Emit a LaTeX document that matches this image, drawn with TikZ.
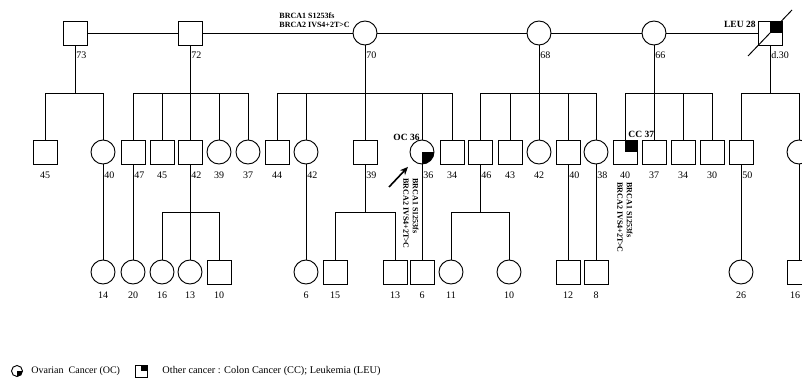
\documentclass[tikz,border=0pt]{standalone}
\usepackage{fontspec}
\setmainfont{Liberation Serif}
\usetikzlibrary{positioning,arrows.meta}

\begin{document}
\begin{tikzpicture}[x=1pt,y=-1pt,>={Stealth[length=8pt,width=7pt]},line width=0.95pt,
  male/.style={draw,minimum size=24pt,inner sep=0pt},
  female/.style={draw,circle,minimum size=24pt,inner sep=0pt},
  age/.style={font=\fontsize{10}{12}\selectfont,inner sep=1pt},
  cancer/.style={font=\fontsize{9.5}{11}\selectfont\bfseries,inner sep=1pt},
  gene/.style={font=\fontsize{8}{9.5}\selectfont\bfseries,align=left,inner sep=0pt}]
\useasboundingbox (0,0) rectangle (802,383);
\coordinate (s1) at (0,93);
\coordinate (s2) at (0,212);

% generation I
\node[male] (g73) at (75,33) {};
\node[male] (g72) at (190,33) {};
\node[female] (g70) at (365,33) {};
\node[female] (g68) at (539,33) {};
\node[female] (g66) at (654,33) {};
\node[male] (g28) at (770,33) {};
\draw (g73) -- (g72) -- (g70) -- (g68) -- (g66) -- (g28);
\fill (g28.center) rectangle (g28.north east);
\draw ([shift={(-22,23)}]g28.center) -- ([shift={(22,-23)}]g28.center);
\node[age,below right=4.5pt and 0pt of g73.south] (t73) {73};
\node[age,below right=4.5pt and 0pt of g72.south] (t72) {72};
\node[age,below right=4.5pt and 0pt of g70.south] (t70) {70};
\node[age,below right=4.5pt and 0pt of g68.south] (t68) {68};
\node[age,below right=4.5pt and 0pt of g66.south] (t66) {66};
\node[age,below right=4.5pt and 0pt of g28.south] (t28) {d.30};
\node[cancer,anchor=east] (leu) at (757,24) {LEU 28};
\node[gene,anchor=north west] (n70) at (279,12) {BRCA1 S1253fs\\BRCA2 IVS4+2T>C};

% generation II
\node[male] (a45) at (45,152) {};
\node[female] (a40) at (103,152) {};
\node[male] (a47) at (133,152) {};
\node[male] (a45b) at (162,152) {};
\node[male] (a42) at (190,152) {};
\node[female] (a39) at (219,152) {};
\node[female] (a37) at (248,152) {};
\node[male] (b44) at (277,152) {};
\node[female] (b42) at (306,152) {};
\node[male] (b39) at (365,152) {};
\node[female] (b36) at (422,152) {};
\node[male] (b34) at (452,152) {};
\node[male] (c46) at (480,152) {};
\node[male] (c43) at (510,152) {};
\node[female] (c42) at (539,152) {};
\node[male] (c40) at (568,152) {};
\node[female] (c38) at (596,152) {};
\node[male] (d40) at (625,152) {};
\node[male] (d37) at (654,152) {};
\node[male] (d34) at (683,152) {};
\node[male] (d30) at (712,152) {};
\node[male] (e50) at (741,152) {};
\node[female] (e00) at (799,152) {};

\draw (g73) -- (g73 |- s1);
\draw (a45) -- (a45 |- s1) -- (a40 |- s1) -- (a40);
\draw (g72) -- (g72 |- s1);
\draw (a47) -- (a47 |- s1) -- (a37 |- s1) -- (a37);
\foreach \k in {a45b,a42,a39} \draw (\k) -- (\k |- s1);
\draw (g70) -- (g70 |- s1);
\draw (b44) -- (b44 |- s1) -- (b34 |- s1) -- (b34);
\foreach \k in {b42,b39,b36} \draw (\k) -- (\k |- s1);
\draw (g68) -- (g68 |- s1);
\draw (c46) -- (c46 |- s1) -- (c38 |- s1) -- (c38);
\foreach \k in {c43,c42,c40} \draw (\k) -- (\k |- s1);
\draw (g66) -- (g66 |- s1);
\draw (d40) -- (d40 |- s1) -- (d30 |- s1) -- (d30);
\foreach \k in {d37,d34} \draw (\k) -- (\k |- s1);
\draw (g28) -- (g28 |- s1);
\draw (e50) -- (e50 |- s1) -- (e00 |- s1) -- (e00);

\begin{scope}
\clip (b36.center) rectangle (b36.east |- b36.south);
\fill (b36.center) circle[radius=12pt];
\end{scope}
\fill (d40.center) rectangle (d40.north east);

\node[age,below=5.5pt of a45] (t45) {45};
\node[age,below right=5.5pt and 0pt of a40.south] (t40) {40};
\node[age,below right=5.5pt and 0pt of a47.south] (t47) {47};
\node[age,below=5.5pt of a45b] (t45b) {45};
\node[age,below right=5.5pt and 0pt of a42.south] (t42) {42};
\node[age,below=5.5pt of a39] (t39) {39};
\node[age,below=5.5pt of a37] (t37) {37};
\node[age,below=5.5pt of b44] (t44) {44};
\node[age,below right=5.5pt and 0pt of b42.south] (t42b) {42};
\node[age,below right=5.5pt and 0pt of b39.south] (t39b) {39};
\node[age,below right=5.5pt and 0pt of b36.south] (t36) {36};
\node[age,below=5.5pt of b34] (t34) {34};
\node[age,below right=5.5pt and 0pt of c46.south] (t46) {46};
\node[age,below=5.5pt of c43] (t43) {43};
\node[age,below=5.5pt of c42] (t42c) {42};
\node[age,below right=5.5pt and 0pt of c40.south] (t40c) {40};
\node[age,below right=5.5pt and 0pt of c38.south] (t38) {38};
\node[age,below=5.5pt of d40] (t40d) {40};
\node[age,below=5.5pt of d37] (t37d) {37};
\node[age,below=5.5pt of d34] (t34d) {34};
\node[age,below=5.5pt of d30] (t30d) {30};
\node[age,below right=5.5pt and 0pt of e50.south] (t50) {50};

\node[cancer,anchor=east] (oc) at (421,137) {OC 36};
\node[cancer,anchor=west] (cc) at (627,134) {CC 37};
\node[gene,rotate=-90,anchor=north west] (n36) at (419,178) {BRCA1 S1253fs\\BRCA2 IVS4+2T>C};
\node[gene,rotate=-90,anchor=north west] (n40) at (633,182) {BRCA1 S1253fs\\BRCA2 IVS4+2T>C};
\coordinate (pa) at (389,187);
\draw[->,line width=1.6pt,shorten >=8pt] (pa) -- (b36);

% generation III
\node[female] (k14) at (103,272) {};
\node[female] (k20) at (133,272) {};
\node[female] (k16) at (162,272) {};
\node[female] (k13) at (190,272) {};
\node[male] (k10) at (219,272) {};
\node[female] (k6) at (306,272) {};
\node[male] (k15) at (335,272) {};
\node[male] (k13b) at (395,272) {};
\node[male] (k6b) at (422,272) {};
\node[female] (k11) at (451,272) {};
\node[female] (k10b) at (509,272) {};
\node[male] (k12) at (568,272) {};
\node[male] (k8) at (596,272) {};
\node[female] (k26) at (741,272) {};
\node[male] (k16b) at (799,272) {};

\draw (a40) -- (k14);
\draw (a47) -- (k20);
\draw (a42) -- (a42 |- s2);
\draw (k16) -- (k16 |- s2) -- (k10 |- s2) -- (k10);
\draw (k13) -- (k13 |- s2);
\draw (b42) -- (k6);
\draw (b39) -- (b39 |- s2);
\draw (k15) -- (k15 |- s2) -- (k13b |- s2) -- (k13b);
\draw (b36) -- (k6b);
\draw (c46) -- (c46 |- s2);
\draw (k11) -- (k11 |- s2) -- (k10b |- s2) -- (k10b);
\draw (c40) -- (k12);
\draw (c38) -- (k8);
\draw (e50) -- (k26);
\draw (e00) -- (k16b);

\foreach \k/\a in {k14/14,k20/20,k16/16,k13/13,k10/10,k6/6,k15/15,k13b/13,k6b/6,
  k11/11,k10b/10,k12/12,k8/8,k26/26}
  \node[age,below=5.5pt of \k] (t\k) {\a};
\node[age,below=5.5pt of k16b,xshift=-4pt] (tk16b) {16};

% legend
\node[female,minimum size=11pt] (lo) at (17,371) {};
\begin{scope}
\clip (lo.center) rectangle (lo.east |- lo.south);
\fill (lo.center) circle[radius=5.5pt];
\end{scope}
\node[age,anchor=west] (lto) at (30,371) {Ovarian\ \ Cancer (OC)};
\node[male,minimum size=12pt] (lc) at (141,371) {};
\fill (lc.center) rectangle (lc.north east);
\node[age,anchor=west,font=\fontsize{10.3}{12}\selectfont] (ltc) at (161,371) {Other cancer : Colon Cancer (CC); Leukemia (LEU)};
\end{tikzpicture}
\end{document}
